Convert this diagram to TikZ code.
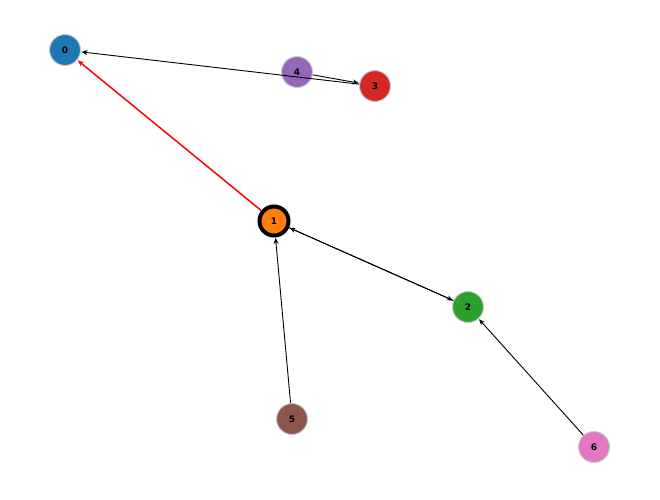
\documentclass[tikz,border=0pt]{standalone}
\usepackage{fontspec}
\setmainfont{DejaVu Sans}
\usetikzlibrary{arrows.meta}
\begin{document}
\begin{tikzpicture}[x=1pt,y=-1pt,
  nd/.style={circle,draw=white!80!black,line width=1pt,minimum size=31pt,inner sep=0pt,font=\bfseries\fontsize{9}{9}\selectfont},
  ed/.style={-{Stealth[length=6pt,width=5pt]},line width=0.9pt,shorten >=0.5pt}]
\useasboundingbox (0,0) rectangle (660,499);
\definecolor{c0}{HTML}{1F77B4}\definecolor{c1}{HTML}{FF7F0E}\definecolor{c2}{HTML}{2CA02C}
\definecolor{c3}{HTML}{D62728}\definecolor{c4}{HTML}{9467BD}\definecolor{c5}{HTML}{8C564B}\definecolor{c6}{HTML}{E377C2}
\node[nd,fill=c0] (n0) at (65,50) {0};
\node[nd,fill=c1,draw=black,line width=4pt,minimum size=29pt] (n1) at (274,221) {1};
\node[nd,fill=c2] (n2) at (468,307) {2};
\node[nd,fill=c3] (n3) at (375,86) {3};
\node[nd,fill=c4] (n4) at (297,72) {4};
\node[nd,fill=c5] (n5) at (292,419) {5};
\node[nd,fill=c6] (n6) at (594,447) {6};
\draw[ed,red,line width=1.5pt] (n1) -- (n0);
\draw[ed] (n3) -- (n0);
\draw[ed] (n4) -- (n3);
\draw[ed] ([yshift=-1.5pt]n1.center) ++(0,0) (n1) -- (n2);
\draw[ed] (n2) -- (n1);
\draw[ed] (n5) -- (n1);
\draw[ed] (n6) -- (n2);
\end{tikzpicture}
\end{document}
